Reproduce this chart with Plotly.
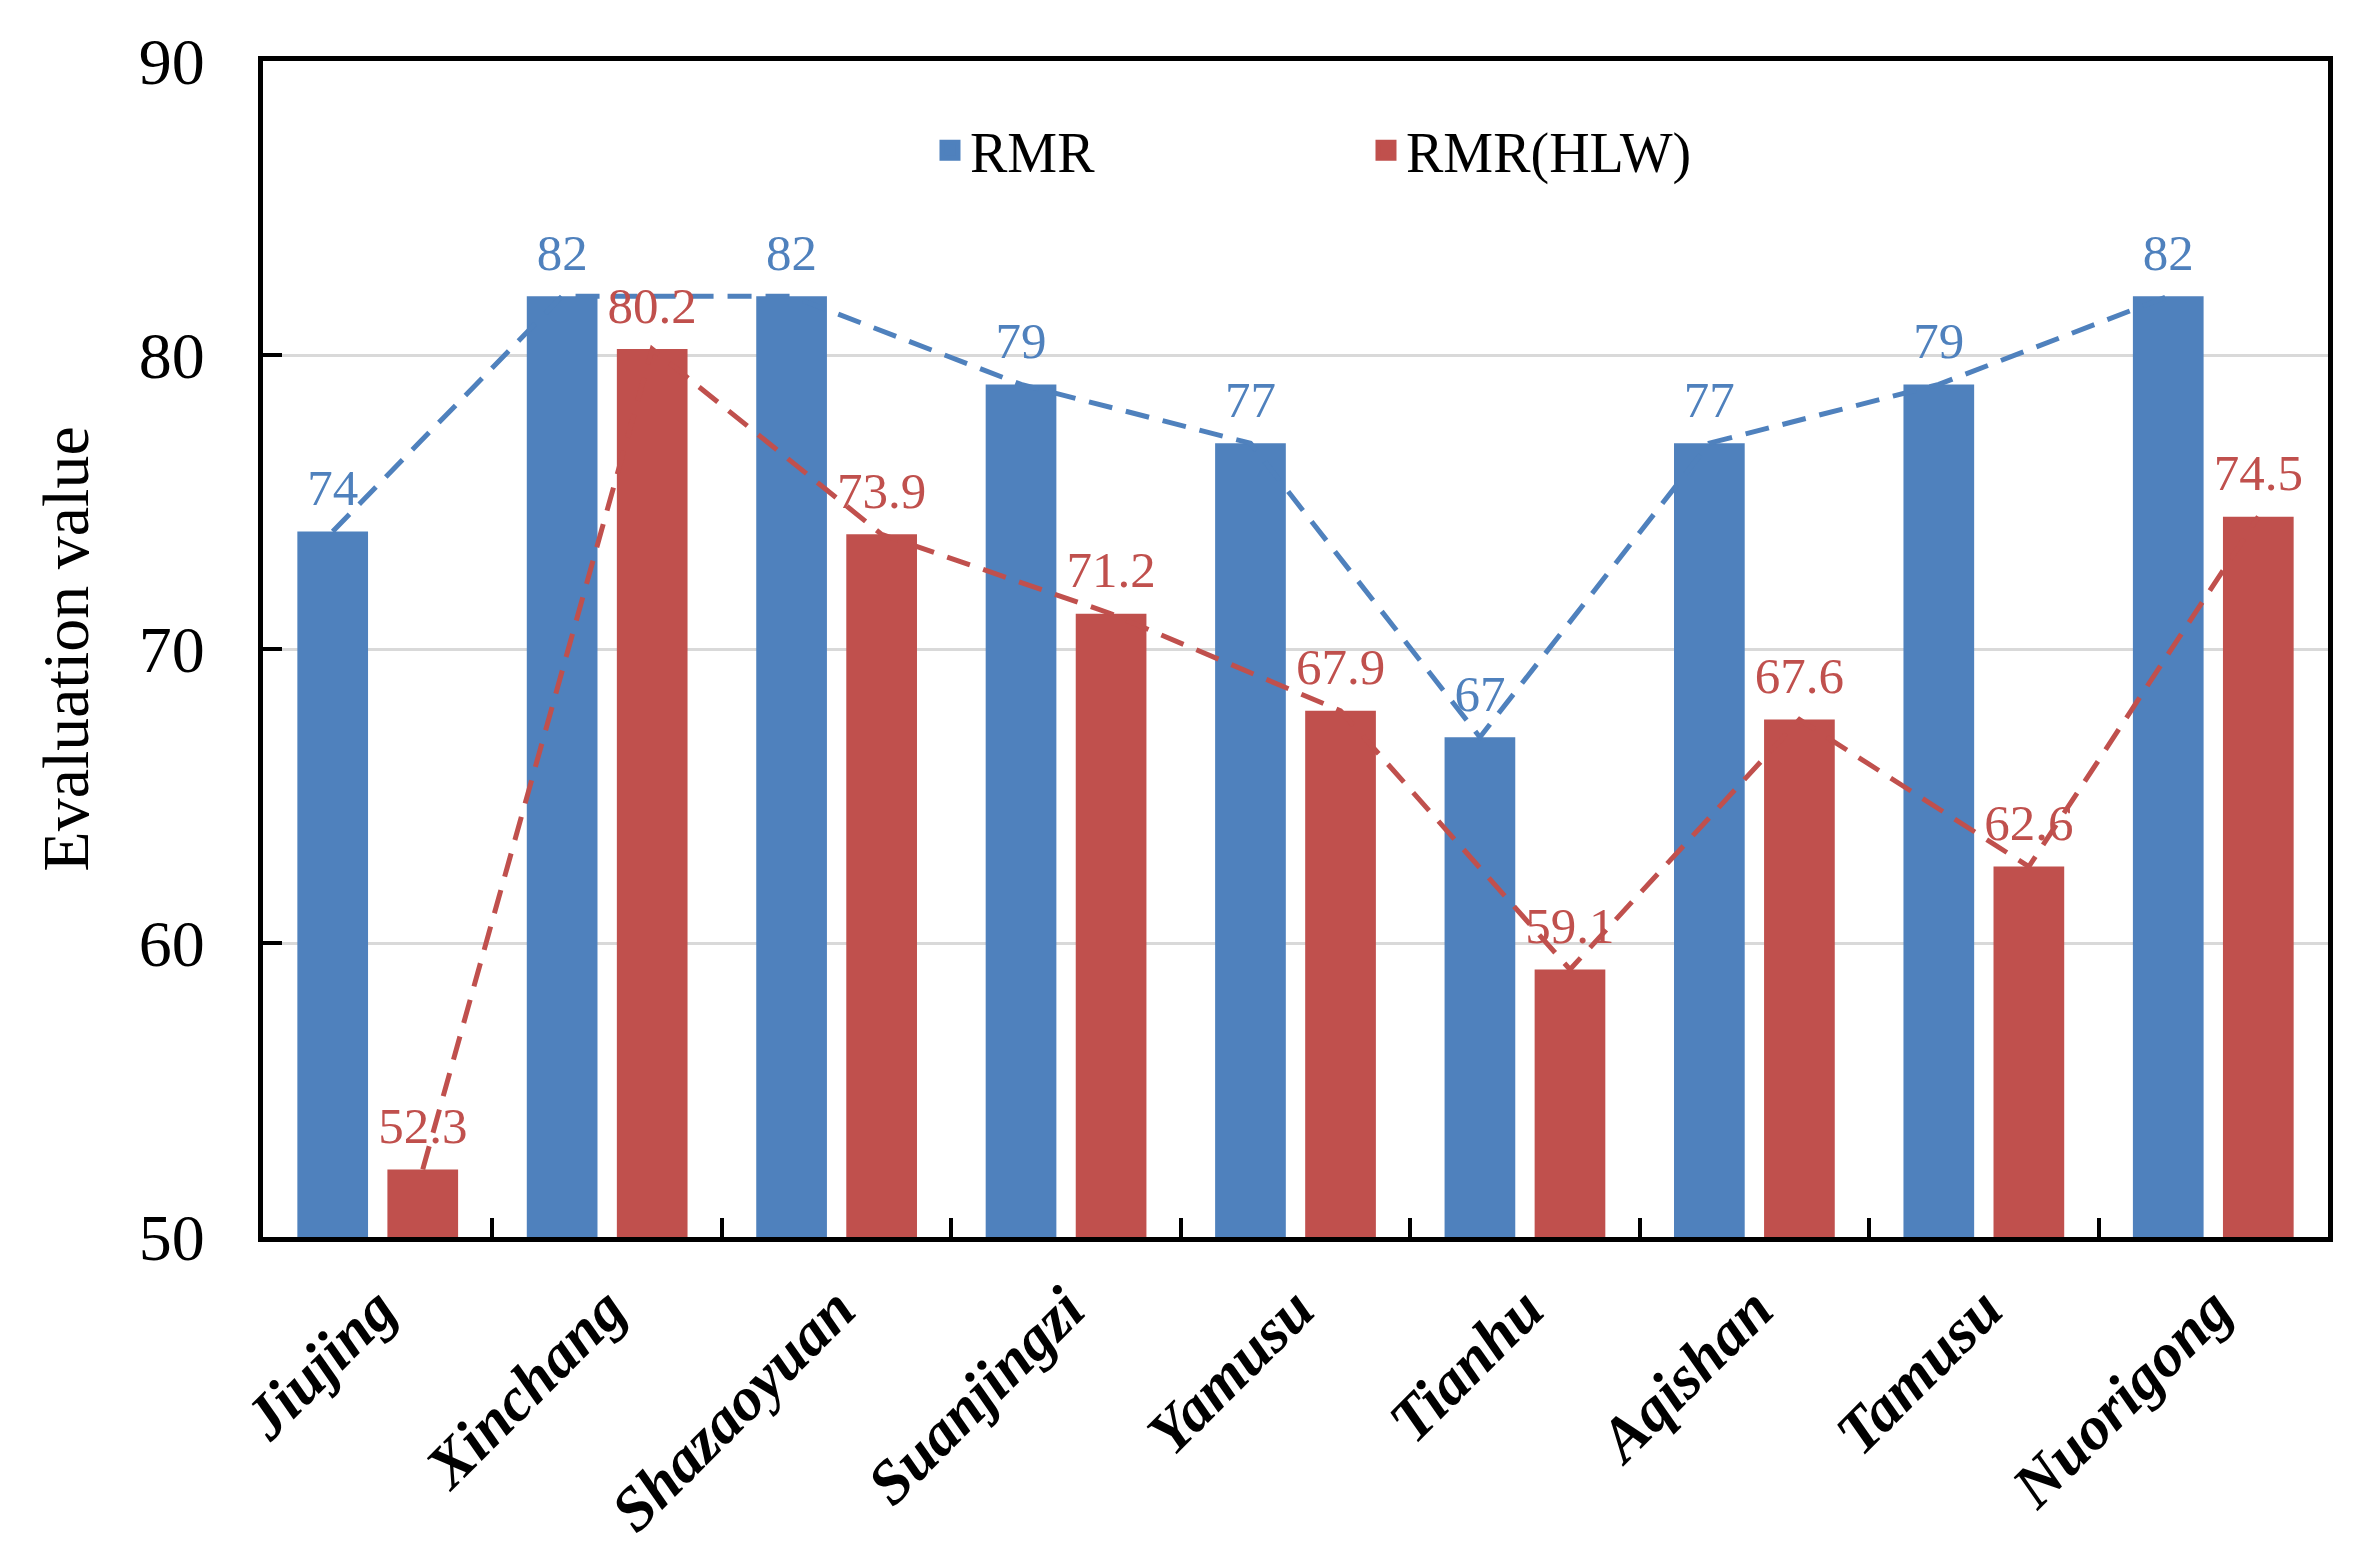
import plotly.graph_objects as go

categories = ["Jiujing", "Xinchang", "Shazaoyuan", "Suanjingzi", "Yamusu",
              "Tianhu", "Aqishan", "Tamusu", "Nuorigong"]
rmr = [74, 82, 82, 79, 77, 67, 77, 79, 82]
rmr_hlw = [52.3, 80.2, 73.9, 71.2, 67.9, 59.1, 67.6, 62.6, 74.5]
series_names = ["RMR", "RMR(HLW)"]
y_ticks = [50, 60, 70, 80, 90]

BLUE = "#4F81BD"
RED = "#C0504D"
FONT = "Liberation Serif"

def fmt(v):
    return f"{v:g}"

fig = go.Figure()

for name, vals, col, grp in [(series_names[0], rmr, BLUE, "a"),
                             (series_names[1], rmr_hlw, RED, "b")]:
    fig.add_trace(go.Bar(
        x=categories, y=vals, name=name, marker=dict(color=col, line=dict(width=0)),
        offsetgroup=grp, showlegend=False,
    ))

for name, vals, col, grp in [(series_names[0], rmr, BLUE, "a"),
                             (series_names[1], rmr_hlw, RED, "b")]:
    fig.add_trace(go.Scatter(
        x=categories, y=vals, name=name, mode="lines+markers+text",
        offsetgroup=grp, showlegend=False,
        line=dict(color=col, width=5, dash="24px,14px"),
        marker=dict(size=20, opacity=0, color=col),
        text=[fmt(v) for v in vals], textposition="top center",
        textfont=dict(family=FONT, size=51, color=col),
        cliponaxis=False,
    ))

# legend entries
for name, col, grp in [(series_names[0], BLUE, "a"), (series_names[1], RED, "b")]:
    fig.add_trace(go.Scatter(
        x=[None], y=[None], name=name, mode="markers", offsetgroup=grp,
        marker=dict(symbol="square", size=16, color=col, line=dict(color=col, width=5)),
        showlegend=True,
    ))

fig.update_layout(
    width=2379, height=1560,
    margin=dict(l=263, r=51, t=61, b=323, pad=0, autoexpand=False),
    paper_bgcolor="white", plot_bgcolor="white",
    barmode="group", bargap=0.215, bargroupgap=0.215,
    scattermode="group", scattergap=0.215,
    font=dict(family=FONT, color="black"),
    legend=dict(
        orientation="h", x=0.323, xanchor="left", y=0.924, yanchor="middle",
        font=dict(family=FONT, size=56, color="black"),
        bgcolor="rgba(0,0,0,0)", entrywidth=391, itemwidth=30,
    ),
)

fig.update_yaxes(
    range=[50, 90], tickvals=y_ticks, ticktext=[str(t) for t in y_ticks],
    automargin=False,
    showgrid=True, gridcolor="#D9D9D9", gridwidth=3,
    showline=True, linecolor="black", linewidth=5, mirror=True,
    ticks="inside", ticklen=19, tickwidth=4, tickcolor="black",
    tickfont=dict(family=FONT, size=66, color="black"),
    ticklabelstandoff=40,
    title=dict(text="Evaluation value", font=dict(family=FONT, size=66, color="black"), standoff=30),
    zeroline=False,
)
fig.update_xaxes(
    type="category", automargin=False,
    showline=True, linecolor="black", linewidth=5, mirror=True,
    ticks="inside", tickson="boundaries", ticklen=19, tickwidth=4, tickcolor="black",
    tickangle=-45,
    tickfont=dict(family=FONT, size=62, color="black", weight="bold", style="italic"),
    ticklabelstandoff=6,
    showgrid=False,
)

fig.write_html("out.html", config={"displayModeBar": False},
               post_script="document.body.style.margin='0';document.body.style.overflow='hidden';")
